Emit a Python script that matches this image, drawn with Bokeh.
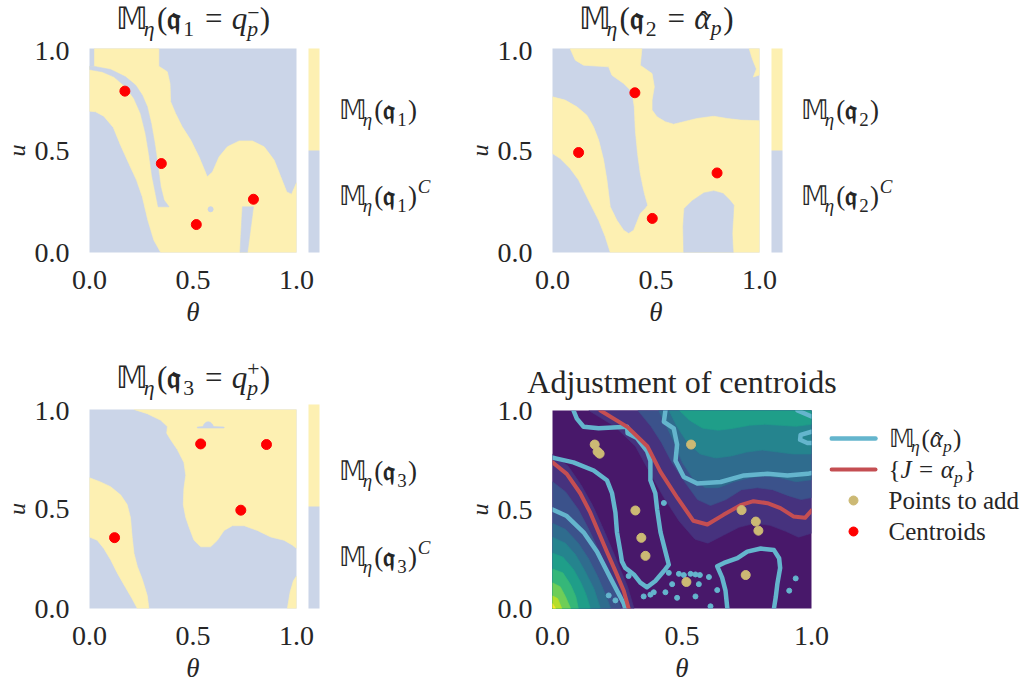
from bokeh.plotting import figure
from bokeh.models import (Range1d, FixedTicker, PrintfTickFormatter, Label, ColorBar,
                          LinearColorMapper)
from bokeh.layouts import column, row
from bokeh.embed import file_html
from bokeh.resources import INLINE

# ---------------- data ----------------
TICKS = [0.0, 0.5, 1.0]
TICK_FORMAT = "%.1f"

# panel 1 : M_eta(q1 = q_p^-) regions (theta, u)
P1_YELLOW = [(.024, 1.0), (.335, 1.0), (.335, .913), (.376, .886), (.389, .828), (.392, .739), (.416, .681),
             (.448, .616), (.489, .551), (.529, .469), (.569, .371), (.594, .395), (.626, .469), (.666, .518),
             (.723, .547), (.787, .547), (.844, .518), (.892, .453), (.924, .371), (.953, .297), (.976, .286),
             (1.0, .342), (1.0, 0.0), (.344, 0.0), (.311, .060), (.282, .158), (.255, .273), (.227, .355),
             (.190, .436), (.150, .526), (.115, .613), (.069, .668), (.029, .690), (0.0, .693), (0.0, .910),
             (.024, .913)]
P1_STRIPE = [(.018, .913), (.102, .897), (.174, .861), (.223, .820), (.255, .771), (.279, .714), (.298, .632),
             (.315, .534), (.331, .420), (.344, .322), (.360, .257), (.384, .224), (.332, .224), (.319, .289),
             (.303, .371), (.287, .485), (.271, .583), (.247, .681), (.215, .755), (.174, .812), (.118, .861),
             (.061, .886), (0.0, .897), (0.0, .913)]
P1_BAR = [(.739, .224), (.792, .224), (.763, 0.0), (.727, 0.0)]
P1_HOLE_T = [.585]
P1_HOLE_U = [.212]
C1_T = [.171, .347, .516, .792]
C1_U = [.791, .436, .137, .261]

# panel 2 : M_eta(q2 = alpha_p)
P2_YELLOW = [(.085, 1.0), (.432, 1.0), (.424, .918), (.481, .877), (.492, .812), (.481, .747), (.481, .698),
             (.505, .665), (.545, .641), (.585, .629), (.634, .641), (.698, .657), (.779, .668), (.844, .657),
             (.908, .649), (1.0, .646), (1.0, 0.0), (.279, 0.0), (.255, .077), (.223, .158), (.190, .224),
             (.158, .289), (.126, .355), (.085, .412), (.037, .461), (0.0, .485), (0.0, .763), (.061, .747),
             (.118, .714), (.166, .673), (.198, .616), (.223, .551), (.247, .453), (.263, .355), (.271, .289),
             (.279, .224), (.311, .158), (.344, .109), (.368, .093), (.392, .109), (.408, .150), (.424, .191),
             (.448, .216), (.460, .232), (.444, .289), (.424, .387), (.411, .485), (.400, .600), (.395, .714),
             (.384, .788), (.344, .828), (.287, .869), (.271, .910), (.150, .918), (.110, .943)]
P2_WEDGE = [(.95, 1.0), (1.0, 1.0), (1.0, .87), (.97, .86), (.985, .90), (.965, .95)]
P2_LOBE = [(.634, 0.0), (.631, .126), (.637, .216), (.674, .253), (.731, .292), (.779, .302), (.824, .289),
           (.856, .257), (.876, .232), (.873, .175), (.868, .093), (.873, 0.0)]
C2_T = [.398, .126, .795, .482]
C2_U = [.783, .490, .390, .167]

# panel 3 : M_eta(q3 = q_p^+)
P3_YELLOW = [(.215, 1.0), (1.0, 1.0), (1.0, .302), (.981, .318), (.940, .343), (.876, .359), (.811, .392),
             (.747, .416), (.690, .416), (.650, .392), (.618, .343), (.585, .310), (.537, .310), (.505, .343),
             (.481, .408), (.465, .457), (.453, .522), (.456, .604), (.465, .669), (.456, .734), (.424, .799),
             (.392, .848), (.373, .881), (.376, .914), (.344, .946), (.279, .979)]
P3_BAND = [(0.0, .657), (.053, .636), (.102, .612), (.150, .571), (.182, .522), (.198, .457), (.206, .359),
           (.215, .277), (.231, .212), (.255, .147), (.279, .065), (.287, 0.0), (.231, 0.0), (.206, .049),
           (.174, .106), (.134, .179), (.102, .245), (.069, .302), (.037, .343), (0.0, .359)]
P3_SLIVER = [(.956, 0.0), (.969, .082), (.985, .139), (1.0, .163), (1.0, 0.0)]
P3_BUMP = [(.521, .912), (.548, .914), (.553, .926), (.563, .936), (.573, .939), (.584, .936), (.594, .926),
           (.599, .914), (.65, .912), (.65, .907), (.521, .907)]
C3_T = [.537, .855, .731, .121]
C3_U = [.827, .824, .494, .356]

# panel 4 : level sets of J (upper-right and lower-left families)
J_UPPER = [
    [(.14, 1), (.24, .92), (.32, .82), (.37, .70), (.43, .56), (.49, .44), (.55, .35), (.60, .33), (.66, .37),
     (.72, .41), (.78, .43), (.84, .42), (.90, .39), (.95, .36), (1, .38)],
    [(.33, 1), (.38, .92), (.42, .84), (.46, .74), (.51, .64), (.56, .55), (.61, .52), (.67, .55), (.73, .60),
     (.79, .61), (.85, .60), (.91, .57), (.96, .55), (1, .56)],
    [(.41, 1), (.44, .92), (.47, .84), (.50, .74), (.54, .66), (.59, .61), (.64, .61), (.70, .64), (.76, .66),
     (.82, .67), (.88, .66), (.94, .64), (1, .65)],
    [(.45, 1), (.48, .92), (.52, .84), (.57, .78), (.63, .76), (.69, .77), (.75, .79), (.81, .80), (.87, .79),
     (.93, .78), (1, .78)],
    [(.49, 1), (.53, .95), (.58, .91), (.64, .90), (.70, .91), (.76, .925), (.82, .93), (.88, .925), (.94, .92),
     (1, .93)],
]
J_LOWER = [
    [(0, .78), (.06, .72), (.11, .625), (.155, .52), (.19, .42), (.225, .315), (.26, .205), (.29, .11), (.315, 0)],
    [(0, .64), (.05, .59), (.10, .50), (.14, .40), (.18, .29), (.215, .18), (.245, .08), (.265, 0)],
    [(0, .43), (.05, .40), (.10, .33), (.14, .25), (.175, .16), (.205, .07), (.225, 0)],
    [(0, .36), (.05, .33), (.09, .27), (.125, .19), (.16, .10), (.185, 0)],
    [(0, .28), (.04, .26), (.08, .20), (.11, .13), (.13, .07), (.146, 0)],
    [(0, .20), (.04, .18), (.07, .12), (.09, .06), (.10, 0)],
    [(0, .13), (.03, .11), (.05, .06), (.07, 0)],
    [(0, .064), (.02, .05), (.036, 0)],
    [(0, .025), (.012, 0)],
]
VIRIDIS_BANDS = ["#48186a", "#46327e", "#3b528b", "#2f6c8e", "#25848e", "#1f9e89",
                 "#35b779", "#6ece58", "#b5de2b", "#fde725"]

RED_UPPER_T = [.185, .29, .367, .417, .483, .544, .598, .66, .726, .776, .83, .88, .93, .975, 1.0]
RED_UPPER_U = [1.0, .916, .818, .69, .557, .443, .424, .473, .522, .542, .532, .507, .465, .458, .495]
RED_LOWER_T = [0, .055, .107, .146, .178, .21, .243, .275, .294]
RED_LOWER_U = [.738, .680, .582, .484, .385, .287, .189, .090, 0]

CYAN_LINES = [
    [(.081, 1.0), (.094, .959), (.12, .918), (.178, .910), (.288, .918), (.29, .885), (.326, .861), (.365, .795),
     (.378, .746), (.378, .648), (.397, .582), (.404, .5), (.417, .385), (.436, .287), (.449, .221), (.43, .189),
     (.397, .139), (.365, .107), (.339, .131), (.314, .172), (.281, .205), (.268, .238), (.262, .287),
     (.249, .385), (.243, .484), (.23, .582), (.21, .648), (.159, .697), (.081, .738), (0, .762)],
    [(0, .5), (.055, .467), (.12, .385), (.172, .287), (.223, .156), (.275, .025), (.281, 0)],
    [(.436, 1.0), (.43, .943), (.468, .910), (.481, .828), (.475, .746), (.507, .664), (.559, .631),
     (.649, .639), (.739, .672), (.83, .68), (.907, .672), (.985, .68), (1.0, .684)],
    [(.946, 1.0), (1.0, .97)],
    [(1.0, .893), (.958, .877), (.956, .852), (.984, .836), (1.0, .836)],
    [(.675, 0), (.668, .09), (.655, .156), (.636, .213), (.662, .23), (.714, .254), (.752, .287), (.804, .303),
     (.855, .295), (.875, .254), (.879, .205), (.868, .123), (.862, .057), (.855, 0)],
]
ISLAND_T = [.43, .294, .449, .488, .507, .533, .552, .569, .604, .462, .565, .391, .436, .481, .552, .636,
            .61, .939, .914, .217, .243, .352, .378]
ISLAND_U = [.533, .164, .18, .175, .169, .175, .172, .169, .159, .123, .123, .082, .082, .054, .061, .093,
            .011, .152, .09, .066, .041, .061, .07]
ADD_T = [.163, .174, .182, .32, .343, .359, .535, .73, .785, .795, .746, .517]
ADD_U = [.828, .792, .782, .495, .357, .266, .828, .497, .439, .393, .169, .134]

LEGEND_PLAIN = ["Points to add", "Centroids"]
TITLE4 = "Adjustment of centroids"

# ---------------- style ----------------
FONT = "Liberation Serif"
TEXT = "#262626"
YELLOW = "#fdf0b2"
BLUE = "#cbd5e8"
RED = "#ff0000"
CYAN = "#64b5cd"
DRED = "#c44e52"
TAN = "#ccb974"
BASE_FIX = 0.34   # baseline correction of the SVG text placement, in em

W_N = {"(": .333, ")": .333, "=": .564, "{": .48, "}": .48, "\u2212": .564, "+": .564,
       "1": .5, "2": .5, "3": .5, "\U0001D544": .90, "\U0001D52E": .52, "\u02c6": .333}
W_I = {"q": .5, "p": .5, "\u03b7": .5, "J": .444, "\u03b1": .53, "C": .667}


def tw(s, st):
    tbl = W_I if st == "italic" else W_N
    return sum(tbl.get(c, W_N.get(c, .5)) for c in s)


def P(t, st="normal", sc=1.0, rise=0.0, adv=None):
    return (t, st, sc, rise, adv)


def G(adv):
    return P("", adv=adv)


SS, SUB = .7, -.22
SP = G(.30)
FQ = P("\U0001D52E", "bold")
MM = [P("\U0001D544"), P("\u03b7", "italic", SS, SUB), G(.07)]
HAT_ALPHA = [G(.13), P("\u02c6", "normal", 1.0, -.13, adv=0), G(-.13), P("\u03b1", "italic")]


def title_q(k, rhs):
    return MM + [P("("), FQ, P(k, sc=SS, rise=SUB), G(.05), SP, P("="), SP] + rhs + [G(.05), P(")")]


T1 = title_q("1", [P("q", "italic"), P("\u2212", sc=SS, rise=.30, adv=0), P("p", "italic", SS, -.21)])
T2 = title_q("2", HAT_ALPHA + [P("p", "italic", SS, -.2)])
T3 = title_q("3", [P("q", "italic"), P("+", sc=SS, rise=.40, adv=0), P("p", "italic", SS, -.21)])


def cb_in(k):
    return MM + [P("("), FQ, P(k, sc=SS, rise=SUB), G(.05), P(")")]


def cb_out(k):
    return cb_in(k) + [G(.03), P("C", "italic", SS, .45)]


LG1 = MM + [P("(")] + HAT_ALPHA + [P("p", "italic", SS, SUB), G(.05), P(")")]
LG2 = [P("{"), P("J", "italic"), SP, P("="), SP, P("\u03b1", "italic"), P("p", "italic", SS, SUB),
       G(.05), P("}")]


def text_at(p, x, y, text, size, style="normal", align="left"):
    p.add_layout(Label(x=x, y=y, y_offset=BASE_FIX * size,
                       text=text, text_font=FONT, text_font_size=f"{size:.1f}px",
                       text_font_style=style, text_color=TEXT, text_baseline="alphabetic",
                       text_align=align))


def rich(p, x, y, pieces, size, align="left"):
    pos = 0.0
    placed = []
    for text, style, scale, rise, adv in pieces:
        placed.append((text, style, scale, rise, pos))
        pos += tw(text, style) * scale * size if adv is None else adv * size
    start = -pos / 2 if align == "center" else 0.0
    for text, style, scale, rise, off in placed:
        if text:
            p.add_layout(Label(x=x, y=y, x_offset=start + off,
                               y_offset=rise * size + BASE_FIX * scale * size,
                               text=text, text_font=FONT, text_font_size=f"{scale * size:.1f}px",
                               text_font_style=style, text_color=TEXT, text_baseline="alphabetic",
                               text_align="left"))


def strip(w, h):
    """blank figure whose frame is the whole canvas, ranges in pixels"""
    f = figure(width=w, height=h, x_range=Range1d(0, w), y_range=Range1d(0, h), output_backend="svg",
               toolbar_location=None, x_axis_location=None, y_axis_location=None,
               min_border_left=0, min_border_right=0, min_border_top=0, min_border_bottom=0,
               frame_align=False)
    f.grid.visible = False
    f.outline_line_color = None
    f.background_fill_color = "white"
    f.border_fill_color = "white"
    return f


def base_fig(w, h, bl, br, bt, bb, bg):
    p = figure(width=w, height=h, x_range=Range1d(0, 1), y_range=Range1d(0, 1),
               output_backend="svg", toolbar_location=None, frame_align=False,
               min_border_left=bl, min_border_right=br, min_border_top=bt, min_border_bottom=bb)
    p.grid.visible = False
    p.outline_line_color = None
    p.background_fill_color = bg
    p.border_fill_color = "white"
    for ax in (p.xaxis[0], p.yaxis[0]):
        ax.ticker = FixedTicker(ticks=TICKS)
        ax.formatter = PrintfTickFormatter(format=TICK_FORMAT)
        ax.axis_line_color = None
        ax.major_tick_line_color = None
        ax.minor_tick_line_color = None
        ax.major_tick_out = 0
        ax.major_tick_in = 0
        ax.major_label_text_font = FONT
        ax.major_label_text_font_size = "28px"
        ax.major_label_text_color = TEXT
        ax.axis_label_text_font = FONT
        ax.axis_label_text_font_style = "italic"
        ax.axis_label_text_color = TEXT
    p.xaxis.axis_label = "\u03b8"
    p.yaxis.axis_label = "u"
    p.xaxis.axis_label_text_font_size = "27px"
    p.yaxis.axis_label_text_font_size = "24px"
    p.xaxis.major_label_standoff = 18
    p.yaxis.major_label_standoff = 20
    p.xaxis.axis_label_standoff = 5
    p.yaxis.axis_label_standoff = 2
    return p


def poly(p, pts, color):
    xs = [a for a, b in pts]
    ys = [b for a, b in pts]
    p.patch(xs, ys, fill_color=color, line_color=color, line_width=0.6)


def region_panel(width, th, ty, mh, bt, bb, layers, hole, cent_t, cent_u, title, k, cbx, cby):
    t = strip(width, th)
    rich(t, 192.5, ty, title, 31, align="center")
    p = base_fig(330, mh, 89, 34, bt, bb, BLUE)
    for pts, color in layers:
        poly(p, pts, color)
    if hole:
        p.scatter(hole[0], hole[1], size=5, color=BLUE)
    p.scatter(cent_t, cent_u, size=10, color=RED)
    cm = LinearColorMapper(palette=[BLUE, YELLOW], low=0, high=1)
    cb = ColorBar(color_mapper=cm, width=11, height=204, padding=0, margin=0,
                  location=(219, 0), ticker=FixedTicker(ticks=[]), major_tick_line_color=None,
                  bar_line_color=None, border_line_color=None, background_fill_color=None,
                  major_label_text_font_size="0px")
    p.add_layout(cb)
    s = strip(width - 330, mh)
    rich(s, cbx, cby[0], cb_in(k), 27)
    rich(s, cbx, cby[1], cb_out(k), 27)
    return column(t, row(p, s))


gA = region_panel(463, 41, 12, 302, 7, 91,
                  [(P1_YELLOW, YELLOW), (P1_STRIPE, BLUE), (P1_BAR, BLUE)], (P1_HOLE_T, P1_HOLE_U),
                  C1_T, C1_U, T1, "1", 8, (224, 138))
gB = region_panel(556, 41, 12, 302, 7, 91,
                  [(P2_YELLOW, YELLOW), (P2_WEDGE, YELLOW), (P2_LOBE, BLUE)], None,
                  C2_T, C2_U, T2, "2", 7, (224, 138))
gC = region_panel(463, 58, 13, 284, 8, 72,
                  [(P3_YELLOW, YELLOW), (P3_BAND, YELLOW), (P3_SLIVER, YELLOW), (P3_BUMP, BLUE)], None,
                  C3_T, C3_U, T3, "3", 8, (205, 119))

# panel 4
tD = strip(562, 58)
text_at(tD, 218.5, 9, TITLE4, 32, align="center")
fD = base_fig(366, 284, 89, 18, 9, 72, VIRIDIS_BANDS[0])
for i, curve in enumerate(J_UPPER):
    poly(fD, curve + [(1.0, 1.0)], VIRIDIS_BANDS[i + 1])
for i, curve in enumerate(J_LOWER):
    poly(fD, curve + [(0.0, 0.0)], VIRIDIS_BANDS[i + 1])
fD.multi_line([[a for a, b in c] for c in CYAN_LINES], [[b for a, b in c] for c in CYAN_LINES],
              line_color=CYAN, line_width=4.5, line_join="round", line_cap="round")
fD.multi_line([RED_UPPER_T, RED_LOWER_T], [RED_UPPER_U, RED_LOWER_U],
              line_color=DRED, line_width=4, line_join="round", line_cap="round")
fD.scatter(ISLAND_T, ISLAND_U, size=5, color=CYAN)
fD.scatter(ADD_T, ADD_U, size=9, color=TAN)

# legend key drawn in a side strip (pixel layout)
sD = strip(196, 284)
ROW_Y = [247, 216, 185, 154]
KEY_X0, KEY_X1, TXT_X = 2, 46, 59
sD.segment(x0=[KEY_X0, KEY_X0], y0=ROW_Y[:2], x1=[KEY_X1, KEY_X1], y1=ROW_Y[:2],
           line_color=[CYAN, DRED], line_width=[4.5, 4], line_cap="round")
sD.scatter([(KEY_X0 + KEY_X1) / 2] * 2, ROW_Y[2:], size=9, color=[TAN, RED])
rich(sD, TXT_X, ROW_Y[0] - 8, LG1, 25)
rich(sD, TXT_X, ROW_Y[1] - 8, LG2, 25)
for txt, yy in zip(LEGEND_PLAIN, ROW_Y[2:]):
    text_at(sD, TXT_X, yy - 8, txt, 25)
gD = column(tD, row(fD, sD))

layout = column(row(gA, gB), row(gC, gD))
open("out.html", "w").write(file_html(layout, INLINE, title="Level sets"))
